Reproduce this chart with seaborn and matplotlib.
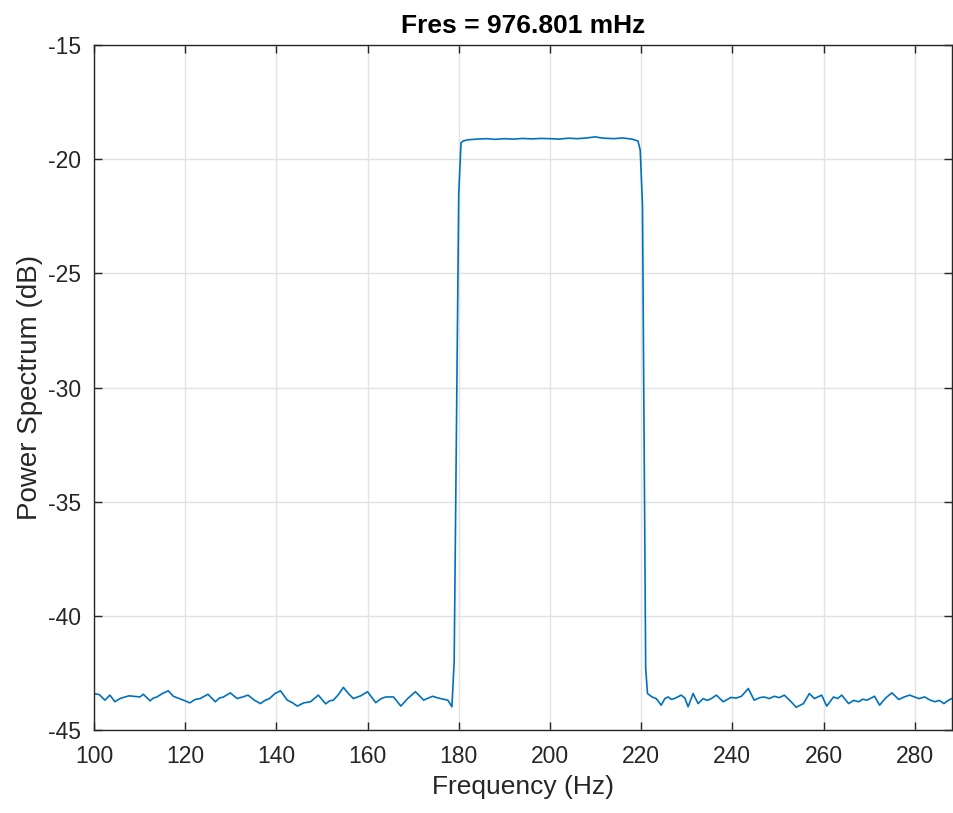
import numpy as np
import pandas as pd
import matplotlib
matplotlib.use("Agg")
import matplotlib.pyplot as plt
import seaborn as sns

# readings taken from the reference trace (Hz, dB)
freq_low = [100.0, 101.2, 102.4, 103.5, 104.6, 105.7, 106.8, 107.7, 108.6, 110.1, 110.8,
            111.6, 112.3, 113.0, 113.8, 115.0, 116.3, 117.4, 118.7, 120.0, 121.0, 122.2,
            123.3, 125.0, 126.6, 127.5, 128.4, 129.9, 131.4, 132.6, 133.8, 135.1, 136.5,
            137.5, 138.5, 139.7, 140.9, 142.4, 143.5, 144.6, 146.0, 147.5, 149.2, 150.8,
            151.7, 152.5, 153.6, 154.7, 155.8, 156.9, 158.5, 160.0, 161.8, 163.0, 164.0,
            165.7, 167.3, 168.8, 170.5, 171.4, 172.3, 173.3, 174.3, 175.2, 176.0, 177.6,
            178.5]
power_low = [-43.40, -43.45, -43.69, -43.47, -43.76, -43.62, -43.55, -43.50, -43.52, -43.55, -43.43,
             -43.58, -43.72, -43.60, -43.55, -43.40, -43.28, -43.52, -43.62, -43.72, -43.81, -43.66,
             -43.62, -43.43, -43.76, -43.60, -43.55, -43.37, -43.62, -43.55, -43.47, -43.68, -43.84,
             -43.70, -43.62, -43.40, -43.28, -43.69, -43.80, -43.95, -43.81, -43.76, -43.47, -43.85,
             -43.72, -43.69, -43.45, -43.13, -43.40, -43.62, -43.50, -43.32, -43.80, -43.62, -43.55,
             -43.55, -43.95, -43.62, -43.32, -43.50, -43.69, -43.60, -43.52, -43.58, -43.62, -43.69,
             -43.98]

freq_edge_up = [179.0, 180.0, 180.5]
power_edge_up = [-42.0, -21.5, -19.28]

freq_pass = [181.0, 182.0, 184.0, 186.0, 188.0, 190.0, 192.0, 194.0, 196.0, 198.0, 200.0,
             202.0, 204.0, 206.0, 208.0, 210.0, 211.0, 212.0, 214.0, 216.0, 218.0, 219.3]
power_pass = [-19.20, -19.15, -19.12, -19.10, -19.13, -19.10, -19.12, -19.09, -19.11, -19.09, -19.10,
              -19.12, -19.08, -19.10, -19.07, -19.02, -19.06, -19.08, -19.10, -19.07, -19.12, -19.20]

freq_edge_down = [219.8, 220.3, 221.0]
power_edge_down = [-19.6, -22.0, -42.3]

freq_high = [221.4, 222.4, 223.3, 224.4, 225.2, 225.9, 226.6, 227.3, 228.0, 228.8, 229.6,
             230.3, 231.4, 232.5, 233.6, 234.5, 235.4, 236.5, 238.0, 239.7, 240.8, 242.0,
             243.5, 244.8, 246.0, 247.0, 248.1, 249.2, 250.3, 251.4, 252.9, 254.0, 255.6,
             256.9, 258.0, 259.6, 260.7, 262.2, 263.1, 264.0, 265.5, 266.6, 267.7, 268.6,
             269.5, 271.2, 272.3, 273.6, 275.0, 276.5, 277.7, 278.9, 280.9, 282.2, 283.3,
             284.4, 285.4, 286.4, 287.2, 288.1, 288.6]
power_high = [-43.40, -43.55, -43.62, -43.91, -43.62, -43.55, -43.65, -43.62, -43.55, -43.47, -43.60,
              -43.98, -43.40, -43.84, -43.62, -43.70, -43.62, -43.47, -43.76, -43.57, -43.60, -43.52,
              -43.18, -43.69, -43.58, -43.55, -43.62, -43.52, -43.58, -43.47, -43.76, -44.00, -43.84,
              -43.40, -43.62, -43.47, -43.95, -43.55, -43.62, -43.47, -43.84, -43.70, -43.76, -43.65,
              -43.69, -43.52, -43.91, -43.60, -43.37, -43.66, -43.55, -43.47, -43.62, -43.55, -43.68,
              -43.76, -43.70, -43.84, -43.72, -43.62, -43.60]

freq = freq_low + freq_edge_up + freq_pass + freq_edge_down + freq_high
power = power_low + power_edge_up + power_pass + power_edge_down + power_high
df = pd.DataFrame({"Frequency (Hz)": freq, "Power Spectrum (dB)": power})

x_ticks = [100, 120, 140, 160, 180, 200, 220, 240, 260, 280]
y_ticks = [-45, -40, -35, -30, -25, -20, -15]

sns.set_style("whitegrid")
plt.rcParams["font.family"] = ["Liberation Sans", "DejaVu Sans"]
plt.rcParams["axes.unicode_minus"] = False

fig = plt.figure(figsize=(9.54, 8.13), dpi=100)
ax = fig.add_axes([0.0985, 0.102, 0.8995, 0.8426])

sns.lineplot(data=df, x="Frequency (Hz)", y="Power Spectrum (dB)", color="#0072BD",
             linewidth=1.2, sort=False, ax=ax)
for ln in ax.get_lines():
    ln.set_solid_joinstyle("round")

ax.set_xlim(100, 288.2)
ax.set_ylim(-45, -15)
ax.set_xticks(x_ticks)
ax.set_yticks(y_ticks)
ax.grid(True, color="#E2E2E2", linewidth=1.0)

for side in ["left", "right", "top", "bottom"]:
    ax.spines[side].set_visible(True)
    ax.spines[side].set_color("#262626")
    ax.spines[side].set_linewidth(1.0)

ax.tick_params(direction="in", length=6, width=1.0, color="#262626",
               top=True, right=True, bottom=True, left=True,
               labelsize=16.5, labelcolor="#262626")
ax.tick_params(axis="x", pad=11)
ax.tick_params(axis="y", pad=9)
ax.set_xlabel("Frequency (Hz)", fontsize=19, color="#262626", labelpad=5)
ax.set_ylabel("Power Spectrum (dB)", fontsize=20, color="#262626", labelpad=4)
ax.set_title("Fres = 976.801 mHz", fontsize=19, fontweight="bold", color="black", pad=9)

plt.savefig("out.png", dpi=100)
